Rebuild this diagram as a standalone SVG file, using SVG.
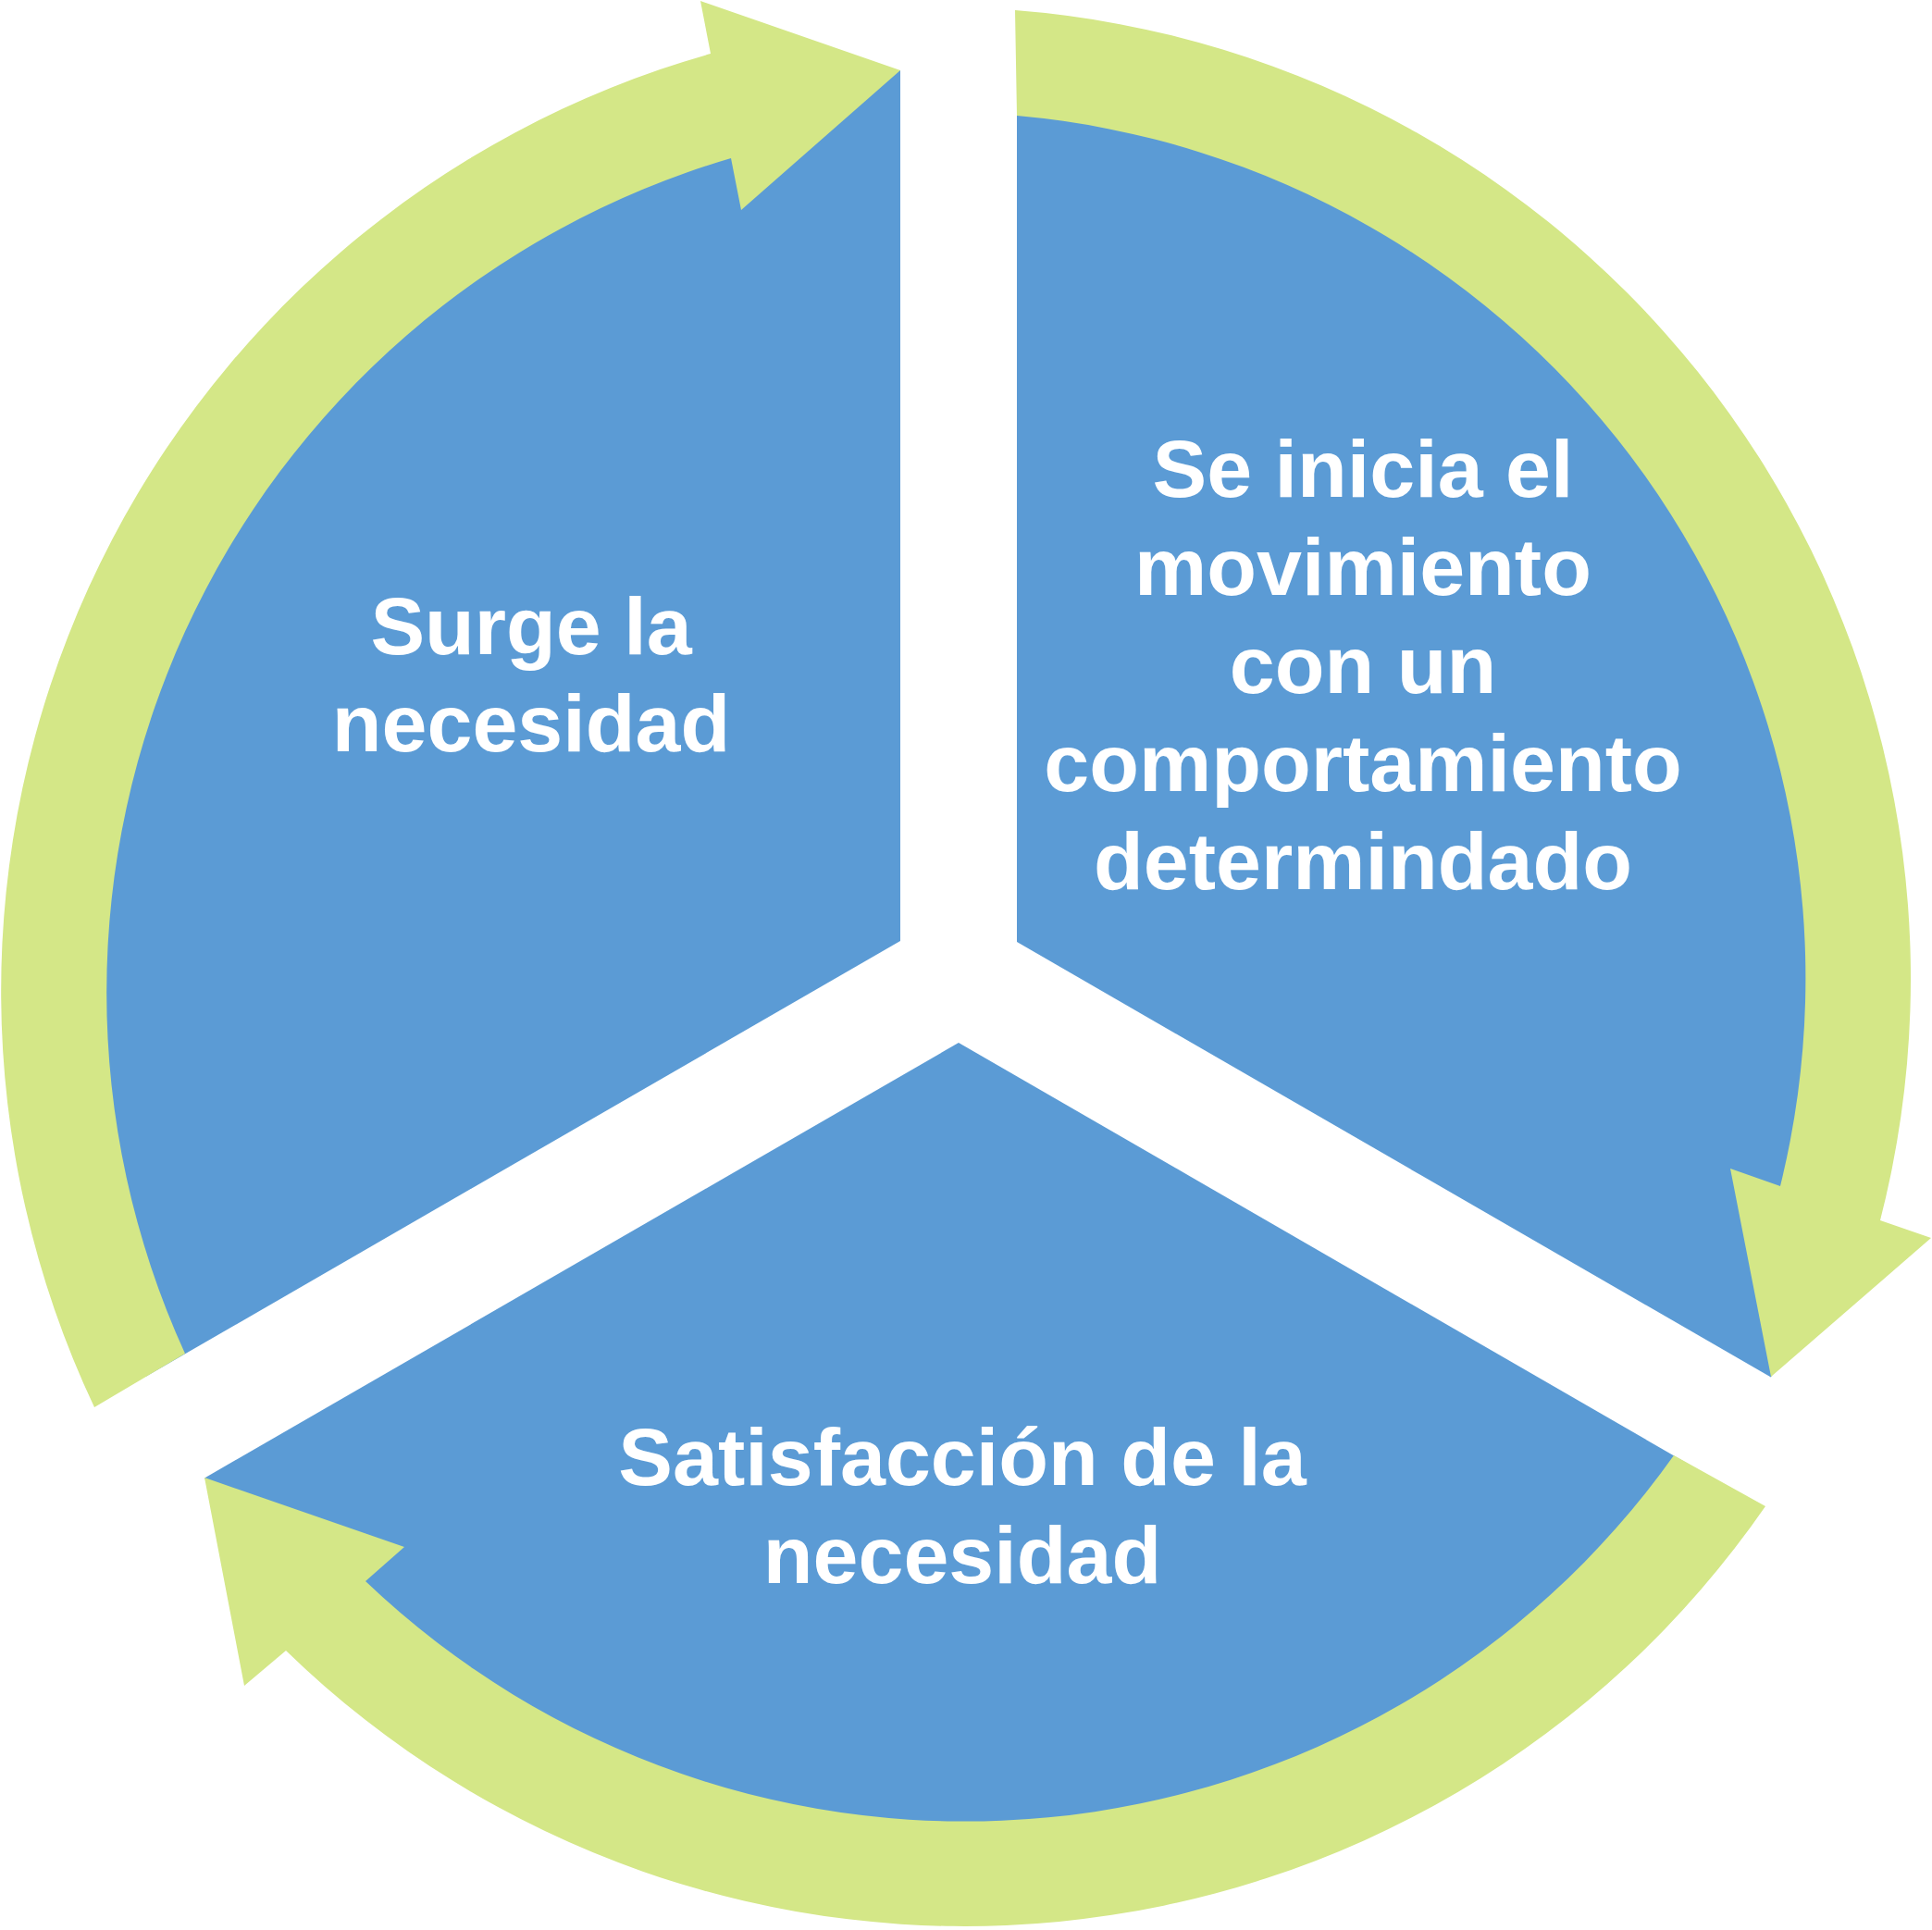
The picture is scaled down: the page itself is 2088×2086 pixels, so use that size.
<svg xmlns="http://www.w3.org/2000/svg" width="2088" height="2086" viewBox="0 0 2088 2086">
<style>
.seg{fill:#5B9BD5;stroke:none}
.arr{fill:#D4E787;stroke:none}
.lbl{font-family:"Liberation Sans",Arial,sans-serif;font-weight:bold;font-size:88px;fill:#FFFFFF;text-anchor:middle}
</style>
<rect x="0" y="0" width="2088" height="2086" fill="#FFFFFF"/>
<g id="node-surge">
<path class="seg" d="M973,1017 L973,76 A941,941 0 0 0 158.1,1487.5 Z"/>
<text class="lbl"><tspan x="574" y="707">Surge la</tspan><tspan x="574" y="812">necesidad</tspan></text>
</g>
<g id="node-inicia">
<path class="seg" d="M1099,1018 L1099,77 A941,941 0 0 1 1913.9,1488.5 Z"/>
<text class="lbl"><tspan x="1473" y="537">Se inicia el</tspan><tspan x="1473" y="643">movimiento</tspan><tspan x="1473" y="749">con un</tspan><tspan x="1473" y="855">comportamiento</tspan><tspan x="1473" y="961">determindado</tspan></text>
</g>
<g id="node-satisfaccion">
<path class="seg" d="M1036,1127 L1850.9,1597.5 A941,941 0 0 1 221.1,1597.5 Z"/>
<text class="lbl"><tspan x="1040" y="1605">Satisfacción de la</tspan><tspan x="1040" y="1711">necesidad</tspan></text>
</g>
<g id="connectors">
<path class="arr" d="M200,1463 A940,940 0 0 1 790,171 L801,227 L973,76 L757,1 L768,58 A1053,1053 0 0 0 102,1521 Z"/>
<path class="arr" d="M1099,125 A936,936 0 0 1 1924,1282 L1870,1263 L1914,1488 L2087,1338 L2032,1319 A1050,1050 0 0 0 1097,11 Z"/>
<path class="arr" d="M1809,1573 A939,939 0 0 1 395,1709 L437,1672 L221,1597 L264,1822 L309,1784 A1052,1052 0 0 0 1908,1628 Z"/>
</g>
</svg>
